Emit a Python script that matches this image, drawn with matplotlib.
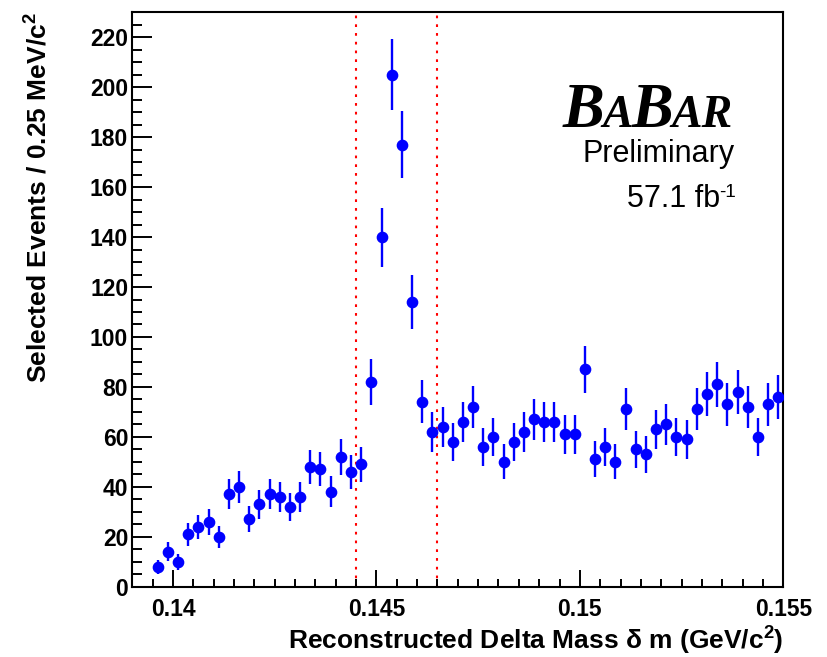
import numpy as np
import matplotlib
matplotlib.use("Agg")
import matplotlib.pyplot as plt
from matplotlib.ticker import MultipleLocator, FixedLocator, FixedFormatter

# ---- data ----
bin_low = 0.1395
bin_width = 0.00025
counts = [8, 14, 10, 21, 24, 26, 20, 37, 40, 27, 33, 37, 36, 32, 36, 48, 47, 38, 52, 46,
          49, 82, 140, 205, 177, 114, 74, 62, 64, 58, 66, 72, 56, 60, 50, 58, 62, 67, 66, 66,
          61, 61, 87, 51, 56, 50, 71, 55, 53, 63, 65, 60, 59, 71, 77, 81, 73, 78, 72, 60,
          73, 76]
signal_window = [0.1445, 0.1465]
xticks = [0.14, 0.145, 0.15, 0.155]
xtick_labels = ["0.14", "0.145", "0.15", "0.155"]
yticks = [0, 20, 40, 60, 80, 100, 120, 140, 160, 180, 200, 220]

counts = np.array(counts, dtype=float)
centers = bin_low + bin_width * (np.arange(len(counts)) + 0.5)
errors = np.sqrt(counts)

plt.rcParams['font.family'] = ['Liberation Sans', 'DejaVu Sans']

W, H = 828, 657
fig = plt.figure(figsize=(W / 100, H / 100), dpi=100)
ax = fig.add_axes([132.3 / W, 1 - 586.7 / H, (783.3 - 132.3) / W, (586.7 - 12.3) / H])

ax.set_xlim(0.139, 0.155)
ax.set_ylim(0, 230)

for xv in signal_window:
    ax.axvline(xv, color='red', lw=1.5, linestyle=(0, (1.3, 2.9)), zorder=1)

ax.errorbar(centers, counts, yerr=errors, fmt='o', color='blue', ms=7.4,
            elinewidth=1.7, capsize=0, zorder=3)

for s in ax.spines.values():
    s.set_linewidth(1.5)

ax.xaxis.set_major_locator(FixedLocator(xticks))
ax.xaxis.set_major_formatter(FixedFormatter(xtick_labels))
ax.xaxis.set_minor_locator(MultipleLocator(0.0005))
ax.yaxis.set_major_locator(FixedLocator(yticks))
ax.yaxis.set_minor_locator(MultipleLocator(5))

ax.tick_params(axis='x', which='major', direction='in', length=12.2, width=1.4,
               labelsize=16.5, pad=8, top=False)
ax.tick_params(axis='x', which='minor', direction='in', length=5.8, width=1.4, top=False)
ax.tick_params(axis='y', which='major', direction='in', length=14.4, width=1.4,
               labelsize=16.5, pad=3, right=False)
ax.tick_params(axis='y', which='minor', direction='in', length=7.2, width=1.4, right=False)
for lab in ax.get_xticklabels() + ax.get_yticklabels():
    lab.set_fontweight('bold')

ax.set_xlabel(r"Reconstructed Delta Mass $\mathregular{\delta}$ m (GeV/c$\mathregular{^{2}}$)",
              fontsize=19, fontweight='bold', loc='right', labelpad=3)
ax.set_ylabel(r"Selected Events / 0.25 MeV/c$\mathregular{^{2}}$",
              fontsize=19, fontweight='bold', loc='top', labelpad=27)

# ---- BABAR logo ----
fig.canvas.draw()
renderer = fig.canvas.get_renderer()
pieces = [("B", 45), ("A", 33), ("B", 45), ("AR", 33)]
x_px = 563.0
base_y = H - 126.7
for txt, size in pieces:
    t = fig.text(x_px / W, base_y / H, txt, fontsize=size, family='Liberation Serif',
                 fontweight='bold', style='italic', ha='left', va='baseline')
    bb = t.get_window_extent(renderer)
    x_px = bb.x1 - 2

fig.text(735 / W, 1 - 161.7 / H, "Preliminary", fontsize=22, ha='right', va='baseline')
sup = fig.text(736 / W, 1 - 197 / H, "-1", fontsize=13.5, ha='right', va='baseline')
sb = sup.get_window_extent(renderer)
fig.text((sb.x0 + 1) / W, 1 - 206.7 / H, "57.1 fb", fontsize=22, ha='right', va='baseline')

fig.savefig("out.png", dpi=100)
